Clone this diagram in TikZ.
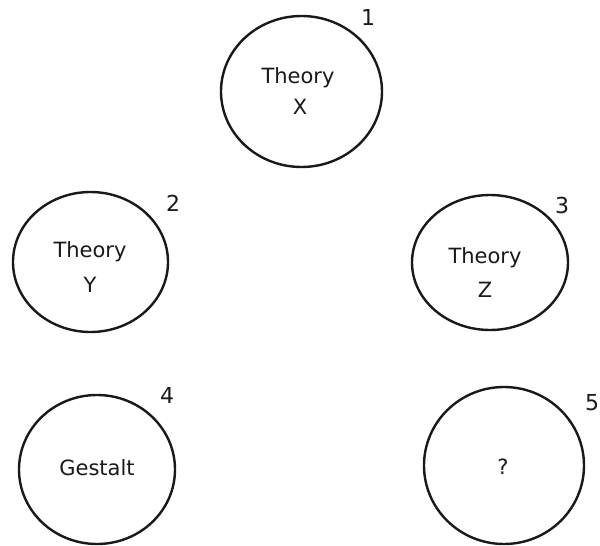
\documentclass[tikz,border=0pt]{standalone}
\usepackage{fontspec}
\setmainfont{DejaVu Sans}
\usetikzlibrary{shapes.geometric}
\tikzset{
  bubble/.style={draw=black!90, line width=2.4pt, ellipse, inner sep=0pt},
  lbl/.style={font=\fontsize{21}{24}\selectfont, inner sep=0pt, text=black!90},
  num/.style={font=\fontsize{22}{24}\selectfont, inner sep=0pt, text=black!90},
}
\begin{document}
\begin{tikzpicture}[x=1pt,y=-1pt]
\useasboundingbox (0,0) rectangle (600,546);
% circles
\node[bubble, minimum width=161pt, minimum height=151pt] (c1) at (301.5,91.5) {};
\node[bubble, minimum width=155pt, minimum height=140pt] (c2) at (90.5,262) {};
\node[bubble, minimum width=156pt, minimum height=135pt] (c3) at (490,262.5) {};
\node[bubble, minimum width=156pt, minimum height=149pt] (c4) at (97,469.5) {};
\node[bubble, minimum width=160pt, minimum height=157pt] (c5) at (504,465.5) {};
% texts
\node[lbl] (t1) at (298,78) {Theory};
\node[lbl] (x1) at (300,107) {X};
\node[lbl] (t2) at (90,252) {Theory};
\node[lbl] (y2) at (90,285) {Y};
\node[lbl] (t3) at (485,258) {Theory};
\node[lbl] (z3) at (485,290) {Z};
\node[lbl] (g4) at (97,468) {Gestalt};
\node[lbl] (q5) at (503,467) {?};
% numbers
\node[num] (n1) at (368,17) {1};
\node[num] (n2) at (173,203) {2};
\node[num] (n3) at (562,205) {3};
\node[num] (n4) at (167,395) {4};
\node[num] (n5) at (592,403) {5};
\end{tikzpicture}
\end{document}
